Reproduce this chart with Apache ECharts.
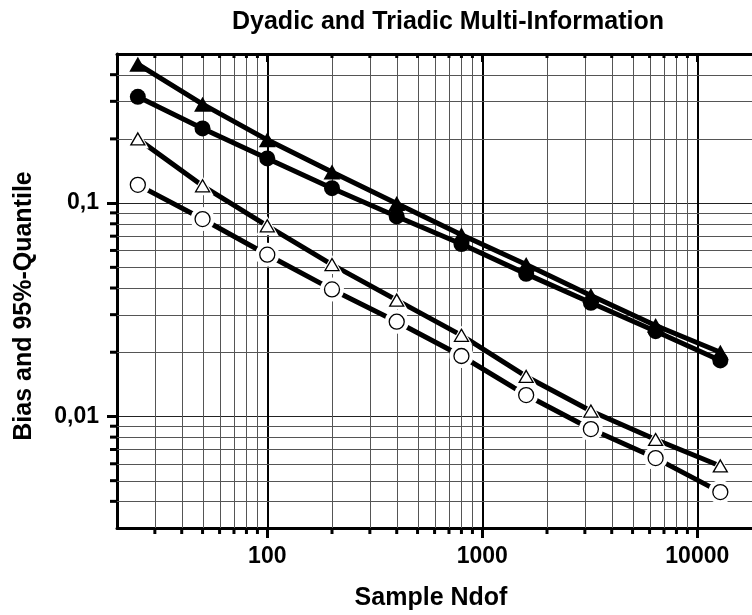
<!DOCTYPE html>
<html><head><meta charset="utf-8">
<script src="https://cdn.jsdelivr.net/npm/echarts@6/dist/echarts.min.js"></script>
<style>html,body{margin:0;padding:0;background:#fff}#c{width:752px;height:615px}</style>
</head><body><div id="c"></div>
<script>
// ---- data ----
const sampleNdof = [25, 50, 100, 200, 400, 800, 1600, 3200, 6400, 12800];
const filledTriangle = [0.448, 0.291, 0.198, 0.140, 0.0997, 0.0711, 0.0515, 0.0369, 0.0267, 0.0200];
const filledCircle   = [0.315, 0.224, 0.162, 0.1175, 0.0866, 0.0643, 0.0466, 0.0341, 0.0251, 0.0183];
const openTriangle   = [0.200, 0.1205, 0.0783, 0.0515, 0.0351, 0.0240, 0.0154, 0.0106, 0.0078, 0.00586];
const openCircle     = [0.1218, 0.0842, 0.0573, 0.0394, 0.0278, 0.0192, 0.0126, 0.00873, 0.00638, 0.00442];
const xMinorTicks = [30, 40, 50, 60, 70, 80, 90, 200, 300, 400, 500, 600, 700, 800, 900,
                     2000, 3000, 4000, 5000, 6000, 7000, 8000, 9000];
const yMinorTicks = [0.004, 0.005, 0.006, 0.007, 0.008, 0.009,
                     0.02, 0.03, 0.04, 0.05, 0.06, 0.07, 0.08, 0.09, 0.2, 0.3, 0.4];
const X_MIN = 20, X_MAX = 20000, Y_MIN = 0.003, Y_MAX = 0.5;

const FONT = '"Liberation Sans", Arial, Helvetica, sans-serif';
const GRID_COLOR = '#555';
const chart = echarts.init(document.getElementById('c'), null, {renderer: 'canvas'});
const pairs = ys => sampleNdof.map((x, i) => [x, ys[i]]);
const crisp = v => Math.round(v) + 0.5;

function minorXItem(params, api) {
  const v = api.value(0);
  const b = api.coord([v, Y_MIN]), t = api.coord([v, Y_MAX]);
  const x = crisp(b[0]);
  return {type: 'group', children: [
    {type: 'line', shape: {x1: x, y1: b[1], x2: x, y2: t[1]}, style: {stroke: GRID_COLOR, lineWidth: 1}},
    {type: 'line', shape: {x1: b[0], y1: b[1], x2: b[0], y2: b[1] + 6}, style: {stroke: '#000', lineWidth: 3}},
    {type: 'line', shape: {x1: t[0], y1: t[1], x2: t[0], y2: t[1] + 4}, style: {stroke: '#000', lineWidth: 3}}
  ]};
}
function minorYItem(params, api) {
  const v = api.value(1);
  const l = api.coord([X_MIN, v]), r = api.coord([X_MAX, v]);
  const y = crisp(l[1]);
  return {type: 'group', children: [
    {type: 'line', shape: {x1: l[0], y1: y, x2: r[0], y2: y}, style: {stroke: GRID_COLOR, lineWidth: 1}},
    {type: 'line', shape: {x1: l[0] - 7, y1: l[1], x2: l[0], y2: l[1]}, style: {stroke: '#000', lineWidth: 3}},
    {type: 'line', shape: {x1: r[0] - 5, y1: r[1], x2: r[0], y2: r[1]}, style: {stroke: '#000', lineWidth: 3}}
  ]};
}

const txt = (size) => ({fontFamily: FONT, fontWeight: 'bold', fontSize: size, color: '#000'});
const axisLine = {show: true, onZero: false, lineStyle: {color: '#000', width: 3}};

const option = {
  animation: false,
  backgroundColor: '#fff',
  title: {
    text: 'Dyadic and Triadic Multi-Information',
    left: 443, top: 5, textAlign: 'center',
    textStyle: txt(25)
  },
  grid: {left: 117, top: 54, width: 645, height: 474, containLabel: false, outerBoundsMode: 'none'},
  xAxis: [{
    type: 'log', logBase: 10, min: X_MIN, max: X_MAX, position: 'bottom',
    name: 'Sample Ndof', nameLocation: 'middle', nameGap: 58,
    nameTextStyle: Object.assign(txt(25), {padding: [0, 17, 0, 0]}),
    axisLine: axisLine,
    axisTick: {show: true, inside: false, length: 10, lineStyle: {color: '#000', width: 3}},
    axisLabel: Object.assign(txt(23), {margin: 17, showMinLabel: false, showMaxLabel: false,
      formatter: v => String(Math.round(v))}),
    splitLine: {show: true, lineStyle: {color: '#000', width: 2}},
    minorTick: {show: false}, minorSplitLine: {show: false}
  }, {
    type: 'log', logBase: 10, min: X_MIN, max: X_MAX, position: 'top',
    axisLine: axisLine,
    axisTick: {show: true, inside: true, length: 8, lineStyle: {color: '#000', width: 3}},
    axisLabel: {show: false}, splitLine: {show: false}
  }],
  yAxis: [{
    type: 'log', logBase: 10, min: Y_MIN, max: Y_MAX, position: 'left',
    name: 'Bias and 95%-Quantile', nameLocation: 'middle', nameGap: 80,
    nameTextStyle: Object.assign(txt(25), {padding: [0, 30, 0, 0]}),
    axisLine: axisLine,
    axisTick: {show: true, inside: false, length: 10, lineStyle: {color: '#000', width: 3}},
    axisLabel: Object.assign(txt(23), {margin: 18, showMinLabel: false, showMaxLabel: false,
      formatter: v => String(Number(v.toPrecision(4))).replace('.', ',')}),
    splitLine: {show: true, lineStyle: {color: '#222', width: 1}},
    minorTick: {show: false}, minorSplitLine: {show: false}
  }, {
    type: 'log', logBase: 10, min: Y_MIN, max: Y_MAX, position: 'right',
    axisLine: axisLine,
    axisTick: {show: true, inside: true, length: 10, lineStyle: {color: '#000', width: 3}},
    axisLabel: {show: false}, splitLine: {show: false}
  }],
  series: [
    {type: 'custom', name: 'xMinor', renderItem: minorXItem, data: xMinorTicks.map(v => [v, Y_MIN]), z: 1, silent: true, clip: false},
    {type: 'custom', name: 'yMinor', renderItem: minorYItem, data: yMinorTicks.map(v => [X_MIN, v]), z: 1, silent: true, clip: false},
    {type: 'line', name: 'filled triangle', data: pairs(filledTriangle), z: 5,
      symbol: 'triangle', symbolSize: [17, 15], showAllSymbol: true,
      lineStyle: {color: '#000', width: 5}, itemStyle: {color: '#000', borderWidth: 0}},
    {type: 'line', name: 'filled circle', data: pairs(filledCircle), z: 5,
      symbol: 'circle', symbolSize: 16, showAllSymbol: true,
      lineStyle: {color: '#000', width: 5}, itemStyle: {color: '#000', borderWidth: 0}},
    {type: 'line', name: 'open triangle line', data: pairs(openTriangle), z: 3, showSymbol: false,
      lineStyle: {color: '#000', width: 5}},
    {type: 'line', name: 'open circle line', data: pairs(openCircle), z: 3, showSymbol: false,
      lineStyle: {color: '#000', width: 5}},
    {type: 'scatter', name: 'open triangle halo', data: pairs(openTriangle), z: 4, silent: true,
      symbol: 'triangle', symbolSize: [22, 19], itemStyle: {color: '#fff', opacity: 1}},
    {type: 'scatter', name: 'open circle halo', data: pairs(openCircle), z: 4, silent: true,
      symbol: 'circle', symbolSize: 24, itemStyle: {color: '#fff', opacity: 1}},
    {type: 'scatter', name: 'open triangle', data: pairs(openTriangle), z: 6,
      symbol: 'triangle', symbolSize: [14, 12], itemStyle: {color: '#fff', borderColor: '#000', borderWidth: 1.3, opacity: 1}},
    {type: 'scatter', name: 'open circle', data: pairs(openCircle), z: 6,
      symbol: 'circle', symbolSize: 15, itemStyle: {color: '#fff', borderColor: '#000', borderWidth: 1.3, opacity: 1}}
  ]
};
chart.setOption(option);
</script></body></html>
